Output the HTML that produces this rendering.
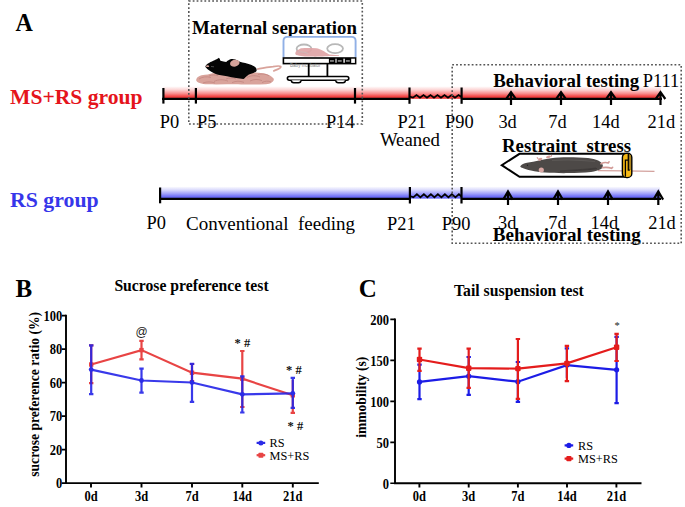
<!DOCTYPE html>
<html><head><meta charset="utf-8"><style>
html,body{margin:0;padding:0;background:#fff;width:685px;height:507px;overflow:hidden}
svg{display:block}
text{font-family:"Liberation Serif",serif}
.b{font-weight:bold}
.sans{font-family:"Liberation Sans",sans-serif}
</style></head><body>
<svg width="685" height="507" viewBox="0 0 685 507">
<defs>
<linearGradient id="gr" x1="0" y1="0" x2="0" y2="1">
<stop offset="0" stop-color="#fff"/><stop offset="0.3" stop-color="#fcd2d2"/><stop offset="0.6" stop-color="#f98a8a"/><stop offset="0.8" stop-color="#f54848"/><stop offset="1" stop-color="#e83232"/>
</linearGradient>
<linearGradient id="gb" x1="0" y1="0" x2="0" y2="1">
<stop offset="0" stop-color="#fff"/><stop offset="0.3" stop-color="#d8d8fc"/><stop offset="0.6" stop-color="#a0a0fa"/><stop offset="0.8" stop-color="#7474f8"/><stop offset="1" stop-color="#5a5af2"/>
</linearGradient>
</defs>

<!-- Panel A -->
<text class="b" transform="translate(15.6,30.7) scale(0.96,1.04)" font-size="25">A</text>


<text class="b" x="192" y="34.3" font-size="18.85">Maternal separation</text>

<!-- mother mouse + pups -->
<g>
<path d="M196.2,80 C196.5,77 200,75.2 205,74.8 C209,74.5 212,73.2 215,73 L246,73 C252,72.2 258,72.4 263,73.2 C268,74 272,76 273.8,78.8 C274.2,81.5 271,83.8 266,84.3 C255,84.8 245,84.6 238,84.2 C228,84.2 218,84.6 208,84.3 C201,84 196.5,82.8 196.2,80 Z" fill="#d9a39b"/>
<g fill="none" stroke="#c28680" stroke-width="0.9" opacity="0.85">
<path d="M199,79 C202,76.8 207,76.2 211,77.5"/>
<path d="M209,76 C212,74.6 215,74.6 218,75.8"/>
<path d="M214,81.5 C218,79.2 224,79.2 228,81.2"/>
<path d="M226,79 C229,77.6 233,77.6 236,79"/>
<path d="M232,82.6 C236,80.8 240,80.8 244,82.4"/>
<path d="M247,77.5 C251,75.2 256,75.2 260,77"/>
<path d="M250,81 C254,79 258,79 262,80.6"/>
<path d="M262,82.6 C265,80.8 268,80.8 271,82"/>
<path d="M258,74.5 C262,73.4 266,74 269,75.8"/>
<path d="M203,83 C207,81.4 211,81.6 215,83"/>
</g>
<path d="M257,69.2 C262,67.8 268,67.2 273,66.6 C277,66 280,65.6 280.8,66.6 C281.2,67.8 279,68.8 277.5,69.4 C276,70 274.5,70.6 273.2,71.2" fill="none" stroke="#d9a39b" stroke-width="1.7"/>
<path d="M205.4,66.2 C206.5,64.6 207.5,63.6 209,63 C211,61.8 213,60.9 214.5,60.3 C216.5,59.4 218,58.5 219,57.8 C219.8,58.8 220.2,59.8 220.4,60.8 C222.5,61.3 224.5,61.8 226.2,62.1 C227,61 228,60.3 229,59.9 C230,59.2 231,59 231.7,59 C233,59 234.5,59.2 235.3,59.6 C237,60.3 238.5,61 239.8,61.7 C241.5,62.3 243.5,62.7 245.2,63 C247.5,63.6 249.8,64.2 251.6,64.9 C253.5,65.8 255,66.6 255.7,67.6 C256.5,68.6 256.8,69.6 256.6,70.7 C256,71.8 254.8,72.5 253.4,73 C251.8,73.6 250.2,74 248.9,74.4 C247.5,75.4 246.2,76.5 245.2,77.5 C244.6,78.2 244,78.7 243.4,78.9 C241,78.8 238.5,78.4 236.2,78 C233,77.5 230,76.8 227.1,76.2 C224,75.7 221,75.3 218.1,74.8 C216.5,74.4 215,73.8 213.6,73 C212,72.2 210.5,71.3 209,70.3 C207.8,69.5 206.6,68.6 205.9,67.6 C205.5,67.1 205.3,66.6 205.4,66.2 Z" fill="#050505"/>
<ellipse cx="234.8" cy="63.2" rx="4.8" ry="3.4" transform="rotate(-12 234.8 63.2)" fill="#d6a39a"/>
<ellipse cx="207.6" cy="66.2" rx="1.6" ry="0.9" fill="#d6a39a"/>
<path d="M211,66.5 L214,66.8" stroke="#777" stroke-width="0.6"/>
</g>

<!-- incubator -->
<g>
<path d="M283.5,57.6 L283.5,40.8 Q283.5,36.9 287.5,36.9 L351.6,36.9 Q355.6,36.9 355.6,40.8 L355.6,57.6" fill="#fff" stroke="#90b0e6" stroke-width="1.9"/>
<ellipse cx="304" cy="48.8" rx="7.4" ry="4.3" fill="none" stroke="#b8b8b8" stroke-width="1.8"/>
<ellipse cx="335.1" cy="48.6" rx="7.9" ry="4.5" fill="none" stroke="#b8b8b8" stroke-width="1.8"/>
<path d="M295.3,53.1 C296,51 297.5,50 298.8,49.6 C300,48.8 301,48.3 302,48.3 C305,48 310,48 316.3,48.3 C318.5,48.6 320,49.2 321.5,50 C323.5,51 325.5,52.2 326.8,53.1 C328,53.8 329,54.3 329.4,54.6 L339,55.3 L339,55.9 L329,56 C327,56.2 326,56.3 325,56.3 C320,56.6 316,56.7 311.9,56.6 C308,56.5 305.5,56.4 303.1,56.2 C300.5,55.9 298,55.4 296.1,54.9 C295.4,54.4 295.1,53.8 295.3,53.1 Z" fill="#e0a4a6" opacity="0.92"/>
<path d="M298,52 C302,51.5 306,52.5 308,53.5" fill="none" stroke="#c9c0c0" stroke-width="1" opacity="0.7"/>
<rect x="283.4" y="58" width="72.2" height="5.6" fill="#fff" stroke="#000" stroke-width="1.6"/>
<rect x="328.9" y="58" width="26.7" height="5.6" fill="#000"/>
<g fill="#999">
<rect x="330" y="60.2" width="3.9" height="1.5"/>
<rect x="337.8" y="60.2" width="3.9" height="1.5"/>
<rect x="345.9" y="60.2" width="3.9" height="1.5"/>
</g>
<rect x="335.3" y="58.7" width="1.4" height="4" fill="#ccc"/>
<rect x="343.4" y="58.7" width="1.4" height="4" fill="#fff"/>
<rect x="351.2" y="58.7" width="3.7" height="4.2" fill="#fff"/>
<text x="290" y="67" font-size="4.6" fill="#888" class="sans">Baby incubator</text>
<line x1="308.7" y1="64" x2="308.7" y2="76.6" stroke="#000" stroke-width="1.8"/>
<line x1="327.4" y1="64" x2="327.4" y2="76.6" stroke="#000" stroke-width="1.8"/>
<rect x="287.4" y="76.5" width="61.4" height="3.7" rx="1.85" fill="#fff" stroke="#000" stroke-width="1.6"/>
<path d="M291.3,80.3 Q291.3,82.8 293.8,82.8 L298.5,82.8 Q301,82.8 301,80.3" fill="#fff" stroke="#000" stroke-width="1.4"/>
<path d="M335.8,80.3 Q335.8,82.8 338.3,82.8 L343,82.8 Q345.4,82.8 345.4,80.3" fill="#fff" stroke="#000" stroke-width="1.4"/>
</g>

<!-- MS+RS timeline -->
<text class="b" x="10" y="104.2" font-size="21.6" fill="#e5141b">MS+RS group</text>
<rect x="163" y="86.2" width="498" height="12.6" fill="url(#gr)"/>
<g stroke="#000" stroke-width="2.2" fill="none">
<line x1="162" y1="98.9" x2="409.5" y2="98.9"/>
<line x1="461.6" y1="98.9" x2="662" y2="98.9"/>
<line x1="163.4" y1="88" x2="163.4" y2="103.6"/>
<line x1="195.9" y1="88" x2="195.9" y2="103.6"/>
<line x1="355" y1="88" x2="355" y2="103.6"/>
<line x1="409.5" y1="87.5" x2="409.5" y2="103.8"/>
<line x1="461.6" y1="87.5" x2="461.6" y2="103.8"/>
<path stroke-width="1.8" d="M409.5,96.6 L413,97.6 L416.5,95 L420,97.6 L423.5,95 L427,97.6 L430.5,95 L434,97.6 L437.5,95 L441,97.6 L444.5,95 L448,97.6 L451.5,95 L455,97.6 L458.5,95 L461.6,97"/>
<path d="M506.2,99 L511,92.2 L515.8,99 M511,92.2 L511,105"/>
<path d="M556.2,99 L561,92.2 L565.8,99 M561,92.2 L561,105"/>
<path d="M606.2,99 L611,92.2 L615.8,99 M611,92.2 L611,105"/>
<path d="M655.7,99 L660.5,92.2 L665.3,99 M660.5,92.2 L660.5,105"/>
</g>
<text class="b" x="493.2" y="86.6" font-size="18.85">Behavioral testing</text>
<text x="642.8" y="86.8" font-size="18.4">P111</text>
<g font-size="18.4">
<text x="159.8" y="127.9">P0</text>
<text x="197" y="127.9">P5</text>
<text x="326" y="127.9">P14</text>
<text x="397.6" y="127.9">P21</text>
<text x="445" y="127.9">P90</text>
<text x="498.4" y="127.6">3d</text>
<text x="548.2" y="127.6">7d</text>
<text x="592" y="127.6">14d</text>
<text x="647.6" y="127.6">21d</text>
<text x="379.9" y="146.3" font-size="18.8">Weaned</text>
</g>

<!-- restraint stress -->
<text class="b" x="502" y="151.8" font-size="18.8" xml:space="preserve">Restraint  stress</text>
<path d="M519.5,153.8 L624,153.8 L624,176.8 L519.5,176.8 L501.8,165.2 Z" fill="#fff" stroke="#000" stroke-width="2"/>
<path d="M598,170.6 C615,170.6 635,170.9 654.5,171.4" fill="none" stroke="#d3a19d" stroke-width="1.4"/>
<path d="M520.3,166.2 C521.5,164.5 524,163.3 527,162.7 C531,161.9 535,161.2 539,160.4 C543,159.6 547,158.8 551,158.2 C556,157.6 562,157.3 568,157.2 C575,157.2 582,157.5 588,158 C592,158.4 595.5,159.2 598.2,160.6 C600.5,161.8 602.2,163.4 602.8,165.3 C603.1,166.8 602.5,168.1 601,169 C598.5,170.4 595,171.3 591,171.9 C584,172.7 576,173 568,173.1 C560,173.2 552,173 545,172.6 C540,172.3 535.5,171.6 531,170.6 C527.5,169.8 524.3,168.8 522,167.8 C520.9,167.3 520.1,166.8 520.3,166.2 Z" fill="#4d4947"/>
<path d="M552,160.5 C565,159.5 580,159.8 595,161.5" fill="none" stroke="#5f5b59" stroke-width="1.2" opacity="0.8"/>
<path d="M560,171.2 C572,170.8 585,170.3 597,168.6" fill="none" stroke="#3a3635" stroke-width="0.9"/>
<path d="M601,163.8 C603.5,162.4 606,162.2 608.3,163 M608.3,163 L609,161.8 M602.5,167.6 C606,167.1 609,167.3 611.5,168.3 M611.5,168.3 L612.6,167.3" fill="none" stroke="#d29a96" stroke-width="1.6" stroke-linecap="round"/>
<g fill="#d49c98">
<ellipse cx="540.2" cy="159.3" rx="2.2" ry="1.3" transform="rotate(-20 540.2 159.3)"/>
<ellipse cx="548.4" cy="156.9" rx="2.4" ry="1.3" transform="rotate(-15 548.4 156.9)"/>
</g>
<path d="M538,158.6 L537.2,157.6 M551,156.6 L551.6,155.4" fill="none" stroke="#d49c98" stroke-width="1.1" stroke-linecap="round"/>
<ellipse cx="541.3" cy="170.1" rx="2.6" ry="2.5" fill="#d8a7a3"/>
<circle cx="527.5" cy="165.2" r="0.7" fill="#222"/>
<path d="M560,171 C570,170 585,169.5 596,168" fill="none" stroke="#3e3a39" stroke-width="0.8"/>
<rect x="622.4" y="153.2" width="9.4" height="24.4" rx="4.2" fill="#f6b915" stroke="#000" stroke-width="1.4"/>
<rect x="629" y="155" width="1.8" height="15" fill="#9c7b22"/>
<path d="M625.4,176.8 L625.4,160.2 L628.3,160.2 M628.3,154 L628.3,170.2 L629.8,170.2" fill="none" stroke="#000" stroke-width="1.3"/>

<!-- RS timeline -->
<text class="b" x="10" y="207.3" font-size="21.8" fill="#3636ea">RS group</text>
<rect x="160" y="186.4" width="500" height="12.2" fill="url(#gb)"/>
<g stroke="#000" stroke-width="2.2" fill="none">
<line x1="159" y1="198.8" x2="409.9" y2="198.8"/>
<line x1="461.5" y1="198.8" x2="661" y2="198.8"/>
<line x1="160.1" y1="187.5" x2="160.1" y2="203.3"/>
<line x1="409.9" y1="187" x2="409.9" y2="203.5"/>
<line x1="461.5" y1="187" x2="461.5" y2="203.5"/>
<path stroke-width="1.8" d="M409.9,196 L413.4,197.3 L416.9,194.2 L420.4,197.3 L423.9,194.2 L427.4,197.3 L430.9,194.2 L434.4,197.3 L437.9,194.2 L441.4,197.3 L444.9,194.2 L448.4,197.3 L451.9,194.2 L455.4,197.3 L458.9,194.2 L461.5,196.5"/>
<path d="M503.2,199.6 L508,191.4 L512.8,199.6 M508,191.4 L508,205"/>
<path d="M553.2,199.6 L558,191.4 L562.8,199.6 M558,191.4 L558,205"/>
<path d="M603.2,199.6 L608,191.4 L612.8,199.6 M608,191.4 L608,205"/>
<path d="M653.5,199.6 L658.3,191.4 L663.1,199.6 M658.3,191.4 L658.3,205"/>
</g>
<g font-size="18.4">
<text x="146.5" y="229.3">P0</text>
<text x="186.1" y="229.6" font-size="19" xml:space="preserve">Conventional  feeding</text>
<text x="387" y="229.5">P21</text>
<text x="441.8" y="229.5">P90</text>
<text x="498" y="228.5">3d</text>
<text x="548.3" y="228.5">7d</text>
<text x="590.5" y="228.5">14d</text>
<text x="648.2" y="228.5">21d</text>
</g>
<text class="b" x="492.8" y="240.9" font-size="19.1">Behavioral testing</text>

<!-- dotted boxes -->
<rect x="188.8" y="1" width="173.5" height="123" fill="none" stroke="#555" stroke-width="1.6" stroke-dasharray="1.8 2.1"/>
<rect x="452.2" y="64.8" width="229" height="178.5" fill="none" stroke="#555" stroke-width="1.6" stroke-dasharray="1.8 2.1"/>

<!-- Panel B -->
<text class="b" x="15.5" y="296.6" font-size="25">B</text>
<text class="b" x="114.4" y="291" font-size="15.7">Sucrose preference test</text>
<text class="b" font-size="13.6" transform="translate(39,394.3) rotate(-90) scale(1,1.08)" text-anchor="middle">sucrose preference ratio (%)</text>
<g stroke="#000" stroke-width="1.9" fill="none">
<path d="M66.0,314.8 L66.0,483.1 L318.8,483.1"/>
<path d="M61.8,315.6 L66.0,315.6 M61.8,349.1 L66.0,349.1 M61.8,382.6 L66.0,382.6 M61.8,416.1 L66.0,416.1 M61.8,449.6 L66.0,449.6 M61.8,483.1 L66.0,483.1" stroke-width="1.6"/>
<path d="M91.0,483.1 L91.0,487.6 M141.5,483.1 L141.5,487.6 M192.0,483.1 L192.0,487.6 M242.3,483.1 L242.3,487.6 M292.8,483.1 L292.8,487.6"/>
</g>
<g class="b" font-size="12.5" text-anchor="end">
<text transform="translate(62.3,320.9) scale(1,1.15)">100</text>
<text transform="translate(62.3,354.4) scale(1,1.15)">80</text>
<text transform="translate(62.3,387.9) scale(1,1.15)">60</text>
<text transform="translate(62.3,421.4) scale(1,1.15)">70</text>
<text transform="translate(62.3,454.9) scale(1,1.15)">20</text>
<text transform="translate(62.3,488.4) scale(1,1.15)">0</text>
</g>
<g class="b" font-size="12.5" text-anchor="middle">
<text transform="translate(91.0,500.7) scale(1,1.1)">0d</text>
<text transform="translate(141.5,500.7) scale(1,1.1)">3d</text>
<text transform="translate(192.0,500.7) scale(1,1.1)">7d</text>
<text transform="translate(242.3,500.7) scale(1,1.1)">14d</text>
<text transform="translate(292.8,500.7) scale(1,1.1)">21d</text>
</g>
<!-- B red -->
<g stroke="#e84444" stroke-width="2.2" fill="none">
<polyline points="91.2,364.5 141.5,350.1 192,372.7 242.3,378.7 292.8,395.3"/>
<path d="M91.2,345.3 L91.2,383.1 M89,345.3 L93.4,345.3 M89,383.1 L93.4,383.1"/>
<path d="M141.5,340.8 L141.5,359.4 M139.3,340.8 L143.7,340.8 M139.3,359.4 L143.7,359.4"/>
<path d="M192,364 L192,381 M189.8,364 L194.2,364 M189.8,381 L194.2,381"/>
<path d="M242.3,351 L242.3,407 M240.1,351 L244.5,351 M240.1,407 L244.5,407"/>
<path d="M292.8,380 L292.8,412.9 M290.6,412.9 L295,412.9"/>
</g>
<g fill="#e84444">
<rect x="89" y="362.3" width="4.4" height="4.4"/>
<rect x="139.3" y="347.9" width="4.4" height="4.4"/>
<rect x="189.8" y="370.5" width="4.4" height="4.4"/>
<rect x="240.1" y="376.5" width="4.4" height="4.4"/>
<rect x="290.6" y="393.1" width="4.4" height="4.4"/>
</g>
<!-- B blue -->
<g stroke="#2424e8" stroke-width="2.2" fill="none" opacity="0.9">
<polyline points="91.2,369.6 141.5,380.5 192,382.5 242.3,394.3 292.8,393.3"/>
<path d="M91.2,345.3 L91.2,394.2 M89,345.3 L93.4,345.3 M89,394.2 L93.4,394.2"/>
<path d="M141.5,368.6 L141.5,392.7 M139.3,368.6 L143.7,368.6 M139.3,392.7 L143.7,392.7"/>
<path d="M192,363.9 L192,401.8 M189.8,363.9 L194.2,363.9 M189.8,401.8 L194.2,401.8"/>
<path d="M242.3,376.3 L242.3,412.5 M240.1,376.3 L244.5,376.3 M240.1,412.5 L244.5,412.5"/>
<path d="M292.8,377.8 L292.8,407.8 M290.6,377.8 L295,377.8 M290.6,407.8 L295,407.8"/>
</g>
<g fill="#2b2be6">
<circle cx="91.2" cy="369.6" r="2.4"/>
<circle cx="141.5" cy="380.5" r="2.4"/>
<circle cx="192" cy="382.5" r="2.4"/>
<circle cx="242.3" cy="394.3" r="2.4"/>
<circle cx="292.8" cy="393.3" r="2.4"/>
</g>
<text class="sans" x="141.7" y="335.9" font-size="12" text-anchor="middle" fill="#222">@</text>
<text x="234.6" y="346.8" font-size="12.5" font-weight="bold" fill="#111" xml:space="preserve">* #</text>
<text x="286.1" y="373.7" font-size="12.5" font-weight="bold" fill="#111" xml:space="preserve">* #</text>
<text x="287.5" y="430.4" font-size="12.5" font-weight="bold" fill="#111" xml:space="preserve">* #</text>
<!-- B legend -->
<path d="M256.6,442.9 L265.2,442.9" stroke="#2b2be6" stroke-width="2.2"/>
<circle cx="260.9" cy="442.9" r="2.5" fill="#2b2be6"/>
<path d="M256.6,455.2 L265.2,455.2" stroke="#e84444" stroke-width="2.2"/>
<rect x="258.4" y="452.7" width="5" height="5" rx="0.8" fill="#e84444"/>
<text x="269.6" y="447" font-size="12.3">RS</text>
<text x="269.6" y="459.5" font-size="12.3">MS+RS</text>

<!-- Panel C -->
<text class="b" x="358.8" y="296.8" font-size="25">C</text>
<text class="b" x="454" y="296" font-size="15.75">Tail suspension test</text>
<text class="b" font-size="13.6" transform="translate(365.7,397.3) rotate(-90) scale(1,1.06)" text-anchor="middle">immobility (s)</text>
<g stroke="#000" stroke-width="1.9" fill="none">
<path d="M395.0,318.59999999999997 L395.0,483.2 L641.5,483.2"/>
<path d="M390.3,319.4 L395.0,319.4 M390.3,360.4 L395.0,360.4 M390.3,401.4 L395.0,401.4 M390.3,442.4 L395.0,442.4 M390.3,483.2 L395.0,483.2" stroke-width="1.6"/>
<path d="M419.4,483.2 L419.4,487.6 M468.7,483.2 L468.7,487.6 M517.9,483.2 L517.9,487.6 M567.0,483.2 L567.0,487.6 M616.4,483.2 L616.4,487.6"/>
</g>
<g class="b" font-size="12.5" text-anchor="end">
<text transform="translate(389,324.7) scale(1,1.15)">200</text>
<text transform="translate(389,365.7) scale(1,1.15)">150</text>
<text transform="translate(389,406.7) scale(1,1.15)">100</text>
<text transform="translate(389,447.7) scale(1,1.15)">50</text>
<text transform="translate(389,488.5) scale(1,1.15)">0</text>
</g>
<g class="b" font-size="12.5" text-anchor="middle">
<text transform="translate(419.4,500.7) scale(1,1.1)">0d</text>
<text transform="translate(468.7,500.7) scale(1,1.1)">3d</text>
<text transform="translate(517.9,500.7) scale(1,1.1)">7d</text>
<text transform="translate(567.0,500.7) scale(1,1.1)">14d</text>
<text transform="translate(616.4,500.7) scale(1,1.1)">21d</text>
</g>
<!-- C blue -->
<g stroke="#1c1ce6" stroke-width="2.2" fill="none">
<polyline points="419.5,381.9 468.7,376.2 517.9,381.7 566.9,365.1 616.6,369.8"/>
<path d="M419.5,364.6 L419.5,399.2 M417.3,364.6 L421.7,364.6 M417.3,399.2 L421.7,399.2"/>
<path d="M468.7,357 L468.7,394.9 M466.5,357 L470.9,357 M466.5,394.9 L470.9,394.9"/>
<path d="M517.9,362 L517.9,401.8 M515.7,362 L520.1,362 M515.7,401.8 L520.1,401.8"/>
<path d="M566.9,348.4 L566.9,378 M564.7,348.4 L569.1,348.4"/>
<path d="M616.6,336.8 L616.6,403.2 M614.4,336.8 L618.8,336.8 M614.4,403.2 L618.8,403.2"/>
</g>
<g fill="#1c1ce6">
<circle cx="419.5" cy="381.9" r="2.6"/>
<circle cx="468.7" cy="376.2" r="2.6"/>
<circle cx="517.9" cy="381.7" r="2.6"/>
<circle cx="566.9" cy="365.1" r="2.6"/>
<circle cx="616.6" cy="369.8" r="2.6"/>
</g>
<!-- C red -->
<g stroke="#e41c1c" stroke-width="2.2" fill="none">
<polyline points="419.5,359.5 468.7,368.2 517.9,368.6 566.9,363.4 616.6,347.3"/>
<path d="M419.5,348.7 L419.5,370.8 M417.3,348.7 L421.7,348.7 M417.3,370.8 L421.7,370.8"/>
<path d="M468.7,348.7 L468.7,387.8 M466.5,348.7 L470.9,348.7 M466.5,387.8 L470.9,387.8"/>
<path d="M517.9,339 L517.9,398.9 M515.7,339 L520.1,339 M515.7,398.9 L520.1,398.9"/>
<path d="M566.9,345.9 L566.9,381.2 M564.7,345.9 L569.1,345.9 M564.7,381.2 L569.1,381.2"/>
<path d="M616.6,333.8 L616.6,361 M614.4,333.8 L618.8,333.8 M614.4,361 L618.8,361"/>
</g>
<g fill="#e41c1c">
<rect x="416.8" y="356.8" width="5.4" height="5.4" rx="1"/>
<rect x="466" y="365.5" width="5.4" height="5.4" rx="1"/>
<rect x="515.2" y="365.9" width="5.4" height="5.4" rx="1"/>
<rect x="564.2" y="360.7" width="5.4" height="5.4" rx="1"/>
<rect x="613.9" y="344.6" width="5.4" height="5.4" rx="1"/>
</g>
<text x="617.1" y="328.6" font-size="10.5" text-anchor="middle" fill="#222">*</text>
<!-- C legend -->
<path d="M564.6,445.4 L573.2,445.4" stroke="#1c1ce6" stroke-width="2.2"/>
<circle cx="568.9" cy="445.4" r="2.6" fill="#1c1ce6"/>
<path d="M564.6,458.6 L573.2,458.6" stroke="#e41c1c" stroke-width="2.2"/>
<rect x="566.3" y="456" width="5.2" height="5.2" rx="1" fill="#e41c1c"/>
<text x="578" y="449.6" font-size="12.3">RS</text>
<text x="578" y="463.3" font-size="12.3">MS+RS</text>
</svg>
</body></html>
